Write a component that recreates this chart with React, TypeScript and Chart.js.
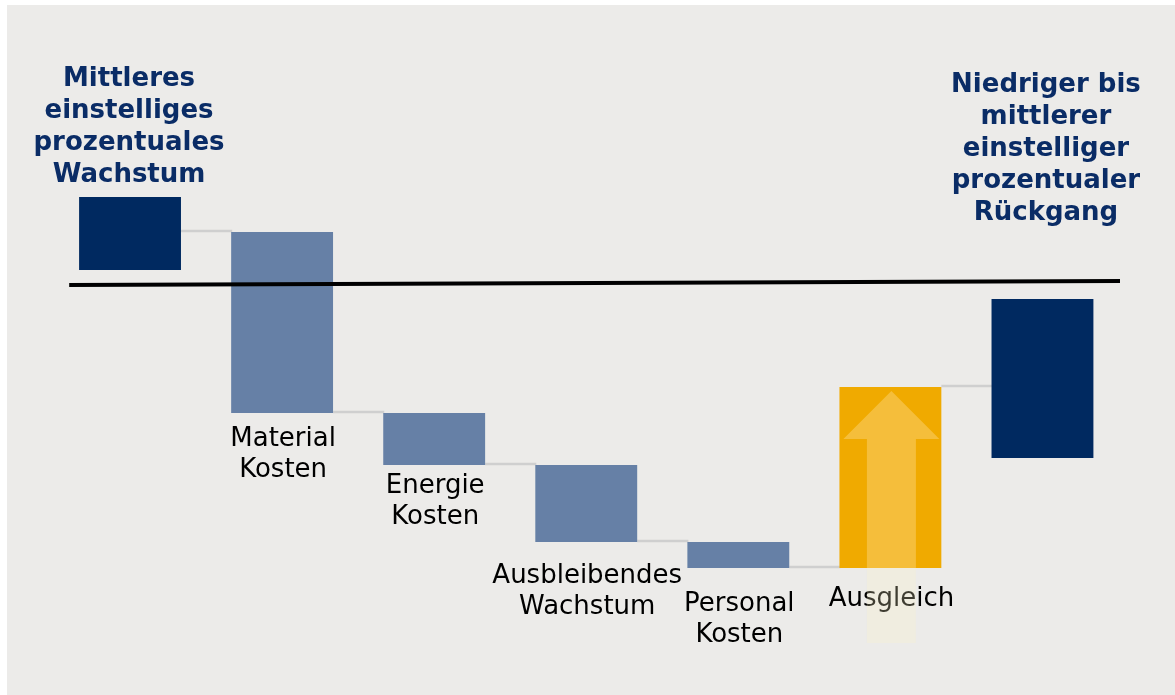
import React, { useEffect, useRef } from 'react';
import { Chart, registerables } from 'chart.js';

Chart.register(...registerables);

// ---------- data ----------
const categories = ['Start', 'Material Kosten', 'Energie Kosten', 'Ausbleibendes Wachstum', 'Personal Kosten', 'Ausgleich', 'Ende'];
const labelLines: string[][] = [[], ['Material', 'Kosten'], ['Energie', 'Kosten'], ['Ausbleibendes', 'Wachstum'], ['Personal', 'Kosten'], ['Ausgleich'], []];
const barLows = [0.7, -6.45, -9.05, -12.9, -14.2, -14.2, -8.7];
const barHighs = [4.35, 2.6, -6.45, -9.05, -12.9, -5.15, -0.75];
const barKinds = ['total', 'cost', 'cost', 'cost', 'cost', 'offset', 'total'];
const connectorLevels = [2.6, -6.45, -9.05, -12.9, -14.2, -5.15];
const baselineX = [-0.4, 6.51];
const baselineY = [-0.05, 0.15];
const leftTitle = ['Mittleres', 'einstelliges', 'prozentuales', 'Wachstum'];
const rightTitle = ['Niedriger bis', 'mittlerer', 'einstelliger', 'prozentualer', 'Rückgang'];

// ---------- styles ----------
const kindColors: Record<string, string> = {
  total: '#002960',
  cost: '#6680a6',
  offset: '#f0aa00',
};
const labelOffsets = [0, 33, 28, 41, 43, 38];
const TITLE_COLOR = '#0a2c66';

const overlayPlugin = {
  id: 'waterfallOverlay',
  beforeDatasetsDraw(chart: any) {
    const ctx = chart.ctx;
    const meta = chart.getDatasetMeta(0);
    const y = chart.scales.y;
    ctx.save();
    ctx.strokeStyle = '#cfcfcf';
    ctx.lineWidth = 2.5;
    for (let i = 0; i < connectorLevels.length; i++) {
      const a = meta.data[i];
      const b = meta.data[i + 1];
      if (!a || !b) continue;
      const py = Math.round(y.getPixelForValue(connectorLevels[i])) - 1;
      ctx.beginPath();
      ctx.moveTo(a.x + a.width / 2, py);
      ctx.lineTo(b.x - b.width / 2 + 1, py);
      ctx.stroke();
    }
    ctx.restore();
  },
  afterDatasetsDraw(chart: any) {
    const ctx = chart.ctx;
    const meta = chart.getDatasetMeta(0);
    const x = chart.scales.x;
    const y = chart.scales.y;
    ctx.save();

    // black reference line
    ctx.strokeStyle = '#000';
    ctx.lineWidth = 4;
    ctx.beginPath();
    ctx.moveTo(x.getPixelForValue(baselineX[0]), y.getPixelForValue(baselineY[0]));
    ctx.lineTo(x.getPixelForValue(baselineX[1]), y.getPixelForValue(baselineY[1]));
    ctx.stroke();

    // arrow inside the offset bar
    const ai = barKinds.indexOf('offset');
    const ab = meta.data[ai];
    const aTop = y.getPixelForValue(barHighs[ai]);
    const aBottom = y.getPixelForValue(barLows[ai]);
    const cx = ab.x + 1;
    const headHalf = ab.width / 2 - 3;
    const shaftHalf = 24.5;
    const headBase = aTop + 52;
    ctx.fillStyle = 'rgba(250,215,130,0.45)';
    ctx.beginPath();
    ctx.moveTo(cx, aTop + 4);
    ctx.lineTo(cx + headHalf, headBase);
    ctx.lineTo(cx + shaftHalf, headBase);
    ctx.lineTo(cx + shaftHalf, aBottom);
    ctx.lineTo(cx - shaftHalf, aBottom);
    ctx.lineTo(cx - shaftHalf, headBase);
    ctx.lineTo(cx - headHalf, headBase);
    ctx.closePath();
    ctx.fill();

    // category labels
    ctx.fillStyle = '#000';
    ctx.font = '26px "DejaVu Sans"';
    ctx.textAlign = 'center';
    ctx.textBaseline = 'alphabetic';
    for (let i = 0; i < labelLines.length; i++) {
      const lines = labelLines[i];
      if (!lines.length) continue;
      const el = meta.data[i];
      const bottom = y.getPixelForValue(barLows[i]);
      lines.forEach((t, k) => {
        ctx.fillText(t, el.x + 1, bottom + labelOffsets[i] + k * 31);
      });
    }

    // shaft continuation below the bar (over the label)
    ctx.fillStyle = 'rgba(250,245,200,0.25)';
    ctx.fillRect(cx - shaftHalf, aBottom, shaftHalf * 2, 75);

    // titles
    ctx.fillStyle = TITLE_COLOR;
    ctx.font = 'bold 26px "DejaVu Sans"';
    const first = meta.data[0];
    const firstTop = y.getPixelForValue(barHighs[0]);
    leftTitle.forEach((t, k) => {
      ctx.fillText(t, first.x - 1, firstTop - 15 - (leftTitle.length - 1 - k) * 32);
    });
    const li = categories.length - 1;
    const last = meta.data[li];
    const lastTop = y.getPixelForValue(barHighs[li]);
    rightTitle.forEach((t, k) => {
      ctx.fillText(t, last.x + 3.5, lastTop - 79 - (rightTitle.length - 1 - k) * 32);
    });

    ctx.restore();
  },
};

export default function App() {
  const canvasRef = useRef<HTMLCanvasElement | null>(null);

  useEffect(() => {
    if (!canvasRef.current) return;
    const chart = new Chart(canvasRef.current, {
      type: 'bar',
      data: {
        labels: categories,
        datasets: [
          {
            data: barLows.map((lo, i) => [lo, barHighs[i]]) as any,
            backgroundColor: barKinds.map((k) => kindColors[k]),
            borderWidth: 0,
            barPercentage: 0.67,
            categoryPercentage: 1,
          } as any,
        ],
      },
      options: {
        responsive: false,
        animation: false,
        devicePixelRatio: 1,
        layout: { padding: { left: 54, right: 56.5, top: 0, bottom: 0 } },
        plugins: {
          legend: { display: false },
          tooltip: { enabled: false },
          title: { display: false },
        },
        scales: {
          x: { type: 'category', display: false, offset: true },
          y: { display: false, min: -20.55, max: 14.2 },
        },
      } as any,
      plugins: [overlayPlugin],
    });
    return () => chart.destroy();
  }, []);

  return (
    <div style={{ position: 'fixed', left: 0, top: 0, width: 1175, height: 695, background: '#ffffff', overflow: 'hidden' }}>
      <div style={{ position: 'absolute', left: 7, top: 5, right: 0, bottom: 0, background: '#ecebe9' }} />
      <canvas
        ref={canvasRef}
        width={1175}
        height={695}
        style={{ position: 'absolute', left: 0, top: 0, width: 1175, height: 695, display: 'block' }}
      />
    </div>
  );
}
